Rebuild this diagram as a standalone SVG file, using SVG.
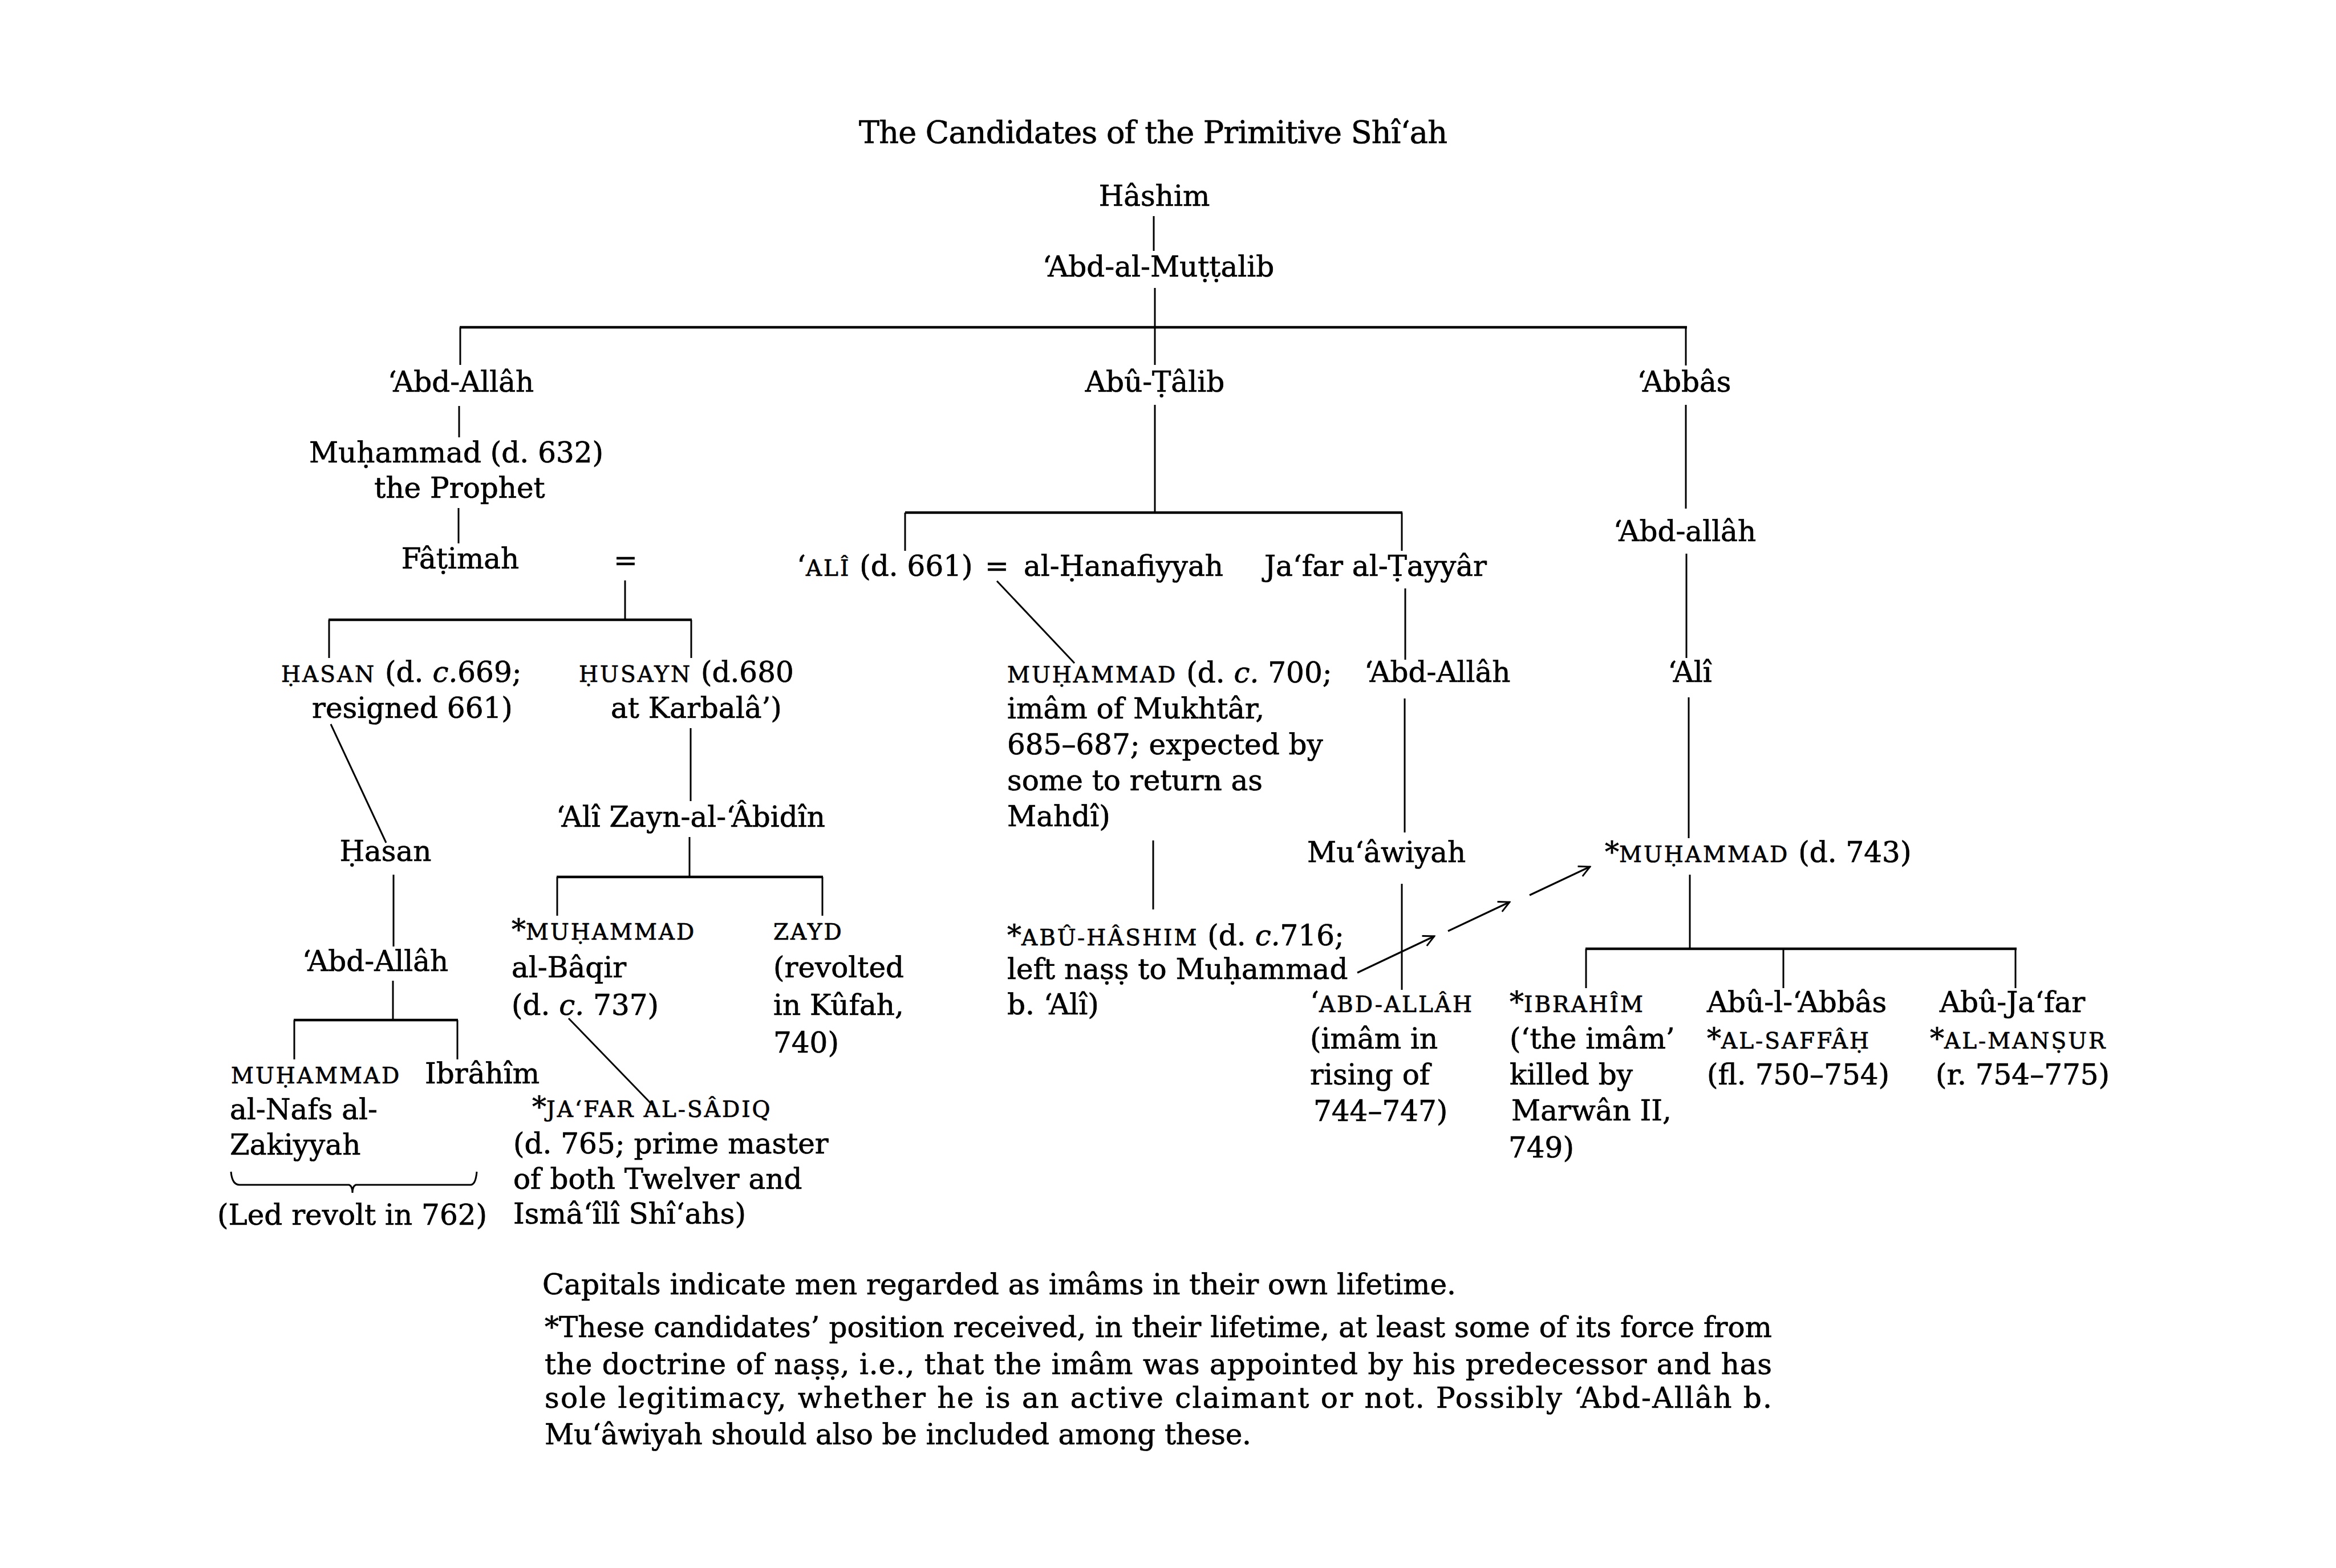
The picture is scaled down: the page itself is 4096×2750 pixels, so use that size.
<svg xmlns="http://www.w3.org/2000/svg" width="4096" height="2750" viewBox="0 0 4096 2750">
<style>
text{font-family:"DejaVu Serif","Liberation Serif",serif;font-size:50px;fill:#000;stroke:#000;stroke-width:0.7}
.title{font-size:54px}
.m{text-anchor:middle}
.sc{font-size:39px;letter-spacing:3px}
.it{font-style:italic}
.ln{stroke:#000;stroke-width:3;fill:none}
.hl{stroke:#000;stroke-width:4.5;fill:none}
.ar{stroke:#000;stroke-width:3.2;fill:none;marker-end:url(#arr)}
</style>
<defs>
<marker id="arr" viewBox="0 0 10 10" refX="9" refY="5" markerUnits="userSpaceOnUse" markerWidth="24" markerHeight="24" orient="auto">
<path d="M1,1 L9,5 L1,9" fill="none" stroke="#000" stroke-width="1.2"/>
</marker>
</defs>
<rect width="4096" height="2750" fill="#fff"/>
<text class="title m" x="2022" y="251" textLength="1032" lengthAdjust="spacing">The Candidates of the Primitive Shî‘ah</text>

<g id="connectors">
<line class="ln" x1="2023" y1="379" x2="2023" y2="440"/>
<line class="ln" x1="2025" y1="505" x2="2025" y2="572"/>
<line class="hl" x1="806" y1="574" x2="2958" y2="574"/>
<line class="ln" x1="807" y1="574" x2="807" y2="640"/>
<line class="ln" x1="2025" y1="574" x2="2025" y2="640"/>
<line class="ln" x1="2956" y1="574" x2="2956" y2="641"/>
<line class="ln" x1="805" y1="712" x2="805" y2="767"/>
<line class="ln" x1="804" y1="891" x2="804" y2="953"/>
<line class="ln" x1="1096" y1="1018" x2="1096" y2="1087"/>
<line class="hl" x1="576" y1="1087" x2="1213" y2="1087"/>
<line class="ln" x1="577" y1="1087" x2="577" y2="1154"/>
<line class="ln" x1="1212" y1="1087" x2="1212" y2="1154"/>
<line class="ln" x1="580" y1="1270" x2="677" y2="1478"/>
<line class="ln" x1="1211" y1="1277" x2="1211" y2="1405"/>
<line class="ln" x1="690" y1="1534" x2="690" y2="1660"/>
<line class="ln" x1="689" y1="1720" x2="689" y2="1789"/>
<line class="hl" x1="515" y1="1789" x2="803" y2="1789"/>
<line class="ln" x1="516" y1="1789" x2="516" y2="1858"/>
<line class="ln" x1="802" y1="1789" x2="802" y2="1858"/>
<line class="ln" x1="1209" y1="1468" x2="1209" y2="1538"/>
<line class="hl" x1="976" y1="1538" x2="1443" y2="1538"/>
<line class="ln" x1="977" y1="1538" x2="977" y2="1606"/>
<line class="ln" x1="1442" y1="1538" x2="1442" y2="1606"/>
<line class="ln" x1="997" y1="1786" x2="1144" y2="1938"/>
<path class="ln" d="M405,2055 Q407,2078 420,2078 L612,2078 Q618,2080 618,2092 Q618,2080 624,2078 L825,2078 Q834,2078 836,2055"/>
<line class="ln" x1="2025" y1="710" x2="2025" y2="899"/>
<line class="hl" x1="1587" y1="899" x2="2459" y2="899"/>
<line class="ln" x1="1587" y1="899" x2="1587" y2="966"/>
<line class="ln" x1="2458" y1="899" x2="2458" y2="966"/>
<line class="ln" x1="1748" y1="1019" x2="1884" y2="1163"/>
<line class="ln" x1="2022" y1="1474" x2="2022" y2="1595"/>
<line class="ln" x1="2464" y1="1032" x2="2464" y2="1157"/>
<line class="ln" x1="2463" y1="1225" x2="2463" y2="1460"/>
<line class="ln" x1="2458" y1="1550" x2="2458" y2="1736"/>
<line class="ar" x1="2380" y1="1706" x2="2515" y2="1642"/>
<line class="ar" x1="2539" y1="1633" x2="2647" y2="1582"/>
<line class="ar" x1="2682" y1="1570" x2="2788" y2="1520"/>
<line class="ln" x1="2956" y1="710" x2="2956" y2="892"/>
<line class="ln" x1="2957" y1="971" x2="2957" y2="1154"/>
<line class="ln" x1="2961" y1="1223" x2="2961" y2="1470"/>
<line class="ln" x1="2963" y1="1534" x2="2963" y2="1664"/>
<line class="hl" x1="2780" y1="1664" x2="3536" y2="1664"/>
<line class="ln" x1="2781" y1="1664" x2="2781" y2="1733"/>
<line class="ln" x1="3127" y1="1664" x2="3127" y2="1733"/>
<line class="ln" x1="3534" y1="1664" x2="3534" y2="1733"/>
</g>

<g id="n-hashim"><text class="m" x="2024" y="361">Hâshim</text></g>
<g id="n-abdmuttalib"><text class="m" x="2031" y="485">‘Abd-al-Muṭṭalib</text></g>
<g id="n-abdallah-father"><text class="m" x="808" y="687">‘Abd-Allâh</text></g>
<g id="n-abutalib"><text class="m" x="2025" y="687">Abû-Ṭâlib</text></g>
<g id="n-abbas"><text class="m" x="2953" y="687">‘Abbâs</text></g>
<g id="n-prophet"><text class="m" x="800" y="811">Muḥammad (d. 632)</text><text class="m" x="806" y="873">the Prophet</text></g>
<g id="n-fatimah"><text class="m" x="807" y="997">Fâṭimah</text></g>
<g id="n-eq1"><text class="m" x="1097" y="1000">=</text></g>
<g id="n-hasan"><text x="493" y="1196"><tspan class="sc">ḤASAN</tspan> (d. <tspan class="it">c.</tspan>669;</text><text x="547" y="1259">resigned 661)</text></g>
<g id="n-husayn"><text x="1015" y="1196"><tspan class="sc">ḤUSAYN</tspan> (d.680</text><text x="1071" y="1259">at Karbalâ’)</text></g>
<g id="n-hasan2"><text class="m" x="676" y="1510">Ḥasan</text></g>
<g id="n-abdallah-hasan"><text class="m" x="658" y="1703">‘Abd-Allâh</text></g>
<g id="n-nafs"><text x="405" y="1900"><tspan class="sc">MUḤAMMAD</tspan></text><text x="403" y="1963">al-Nafs al-</text><text x="403" y="2025">Zakiyyah</text></g>
<g id="n-ibrahim1"><text x="745" y="1900">Ibrâhîm</text></g>
<g id="n-led"><text x="381" y="2148">(Led revolt in 762)</text></g>
<g id="n-zayn"><text class="m" x="1211" y="1450">‘Alî Zayn-al-‘Âbidîn</text></g>
<g id="n-baqir"><text x="897" y="1648">*<tspan class="sc">MUḤAMMAD</tspan></text><text x="897" y="1714">al-Bâqir</text><text x="897" y="1780">(d. <tspan class="it">c.</tspan> 737)</text></g>
<g id="n-zayd"><text x="1356" y="1648"><tspan class="sc">ZAYD</tspan></text><text x="1356" y="1714">(revolted</text><text x="1356" y="1780">in Kûfah,</text><text x="1356" y="1846">740)</text></g>
<g id="n-sadiq"><text x="933" y="1959">*<tspan class="sc">JA‘FAR AL-SÂDIQ</tspan></text><text x="900" y="2023">(d. 765; prime master</text><text x="900" y="2085">of both Twelver and</text><text x="900" y="2146">Ismâ‘îlî Shî‘ahs)</text></g>
<g id="n-ali"><text x="1397" y="1010">‘<tspan class="sc">ALÎ</tspan> (d. 661)</text></g>
<g id="n-eq2"><text class="m" x="1748" y="1010">=</text></g>
<g id="n-hanafiyyah"><text x="1795" y="1010">al-Ḥanafiyyah</text></g>
<g id="n-jafar-tayyar"><text x="2217" y="1010">Ja‘far al-Ṭayyâr</text></g>
<g id="n-ibn-hanafiyyah"><text x="1766" y="1197"><tspan class="sc">MUḤAMMAD</tspan> (d. <tspan class="it">c.</tspan> 700;</text><text x="1766" y="1260">imâm of Mukhtâr,</text><text x="1766" y="1323">685–687; expected by</text><text x="1766" y="1386">some to return as</text><text x="1766" y="1449">Mahdî)</text></g>
<g id="n-abuhashim"><text x="1766" y="1658">*<tspan class="sc">ABÛ-HÂSHIM</tspan> (d. <tspan class="it">c.</tspan>716;</text><text x="1766" y="1717">left naṣṣ to Muḥammad</text><text x="1766" y="1779">b. ‘Alî)</text></g>
<g id="n-abdallah-jafar"><text x="2392" y="1196">‘Abd-Allâh</text></g>
<g id="n-muawiyah"><text x="2292" y="1512">Mu‘âwiyah</text></g>
<g id="n-abdallah-muawiyah"><text x="2297" y="1775">‘<tspan class="sc">ABD-ALLÂH</tspan></text><text x="2297" y="1839">(imâm in</text><text x="2297" y="1902">rising of</text><text x="2303" y="1966">744–747)</text></g>
<g id="n-abdallah-abbas"><text class="m" x="2954" y="949">‘Abd-allâh</text></g>
<g id="n-ali-abbas"><text class="m" x="2963" y="1196">‘Alî</text></g>
<g id="n-muhammad743"><text x="2814" y="1512">*<tspan class="sc">MUḤAMMAD</tspan> (d. 743)</text></g>
<g id="n-ibrahim2"><text x="2647" y="1775">*<tspan class="sc">IBRAHÎM</tspan></text><text x="2647" y="1839">(‘the imâm’</text><text x="2647" y="1902">killed by</text><text x="2650" y="1965">Marwân II,</text><text x="2645" y="2030">749)</text></g>
<g id="n-saffah"><text x="2993" y="1775">Abû-l-‘Abbâs</text><text x="2993" y="1839">*<tspan class="sc">AL-SAFFÂḤ</tspan></text><text x="2993" y="1902">(fl. 750–754)</text></g>
<g id="n-mansur"><text x="3401" y="1775">Abû-Ja‘far</text><text x="3384" y="1839">*<tspan class="sc">AL-MANṢUR</tspan></text><text x="3394" y="1902">(r. 754–775)</text></g>

<g id="footer">
<text x="951" y="2270" textLength="1602" lengthAdjust="spacing">Capitals indicate men regarded as imâms in their own lifetime.</text>
<text x="955" y="2345" textLength="2152" lengthAdjust="spacing">*These candidates’ position received, in their lifetime, at least some of its force from</text>
<text x="955" y="2410" textLength="2152" lengthAdjust="spacing">the doctrine of naṣṣ, i.e., that the imâm was appointed by his predecessor and has</text>
<text x="955" y="2469" textLength="2152" lengthAdjust="spacing">sole legitimacy, whether he is an active claimant or not. Possibly ‘Abd-Allâh b.</text>
<text x="955" y="2533" textLength="1239" lengthAdjust="spacing">Mu‘âwiyah should also be included among these.</text>
</g>
</svg>
